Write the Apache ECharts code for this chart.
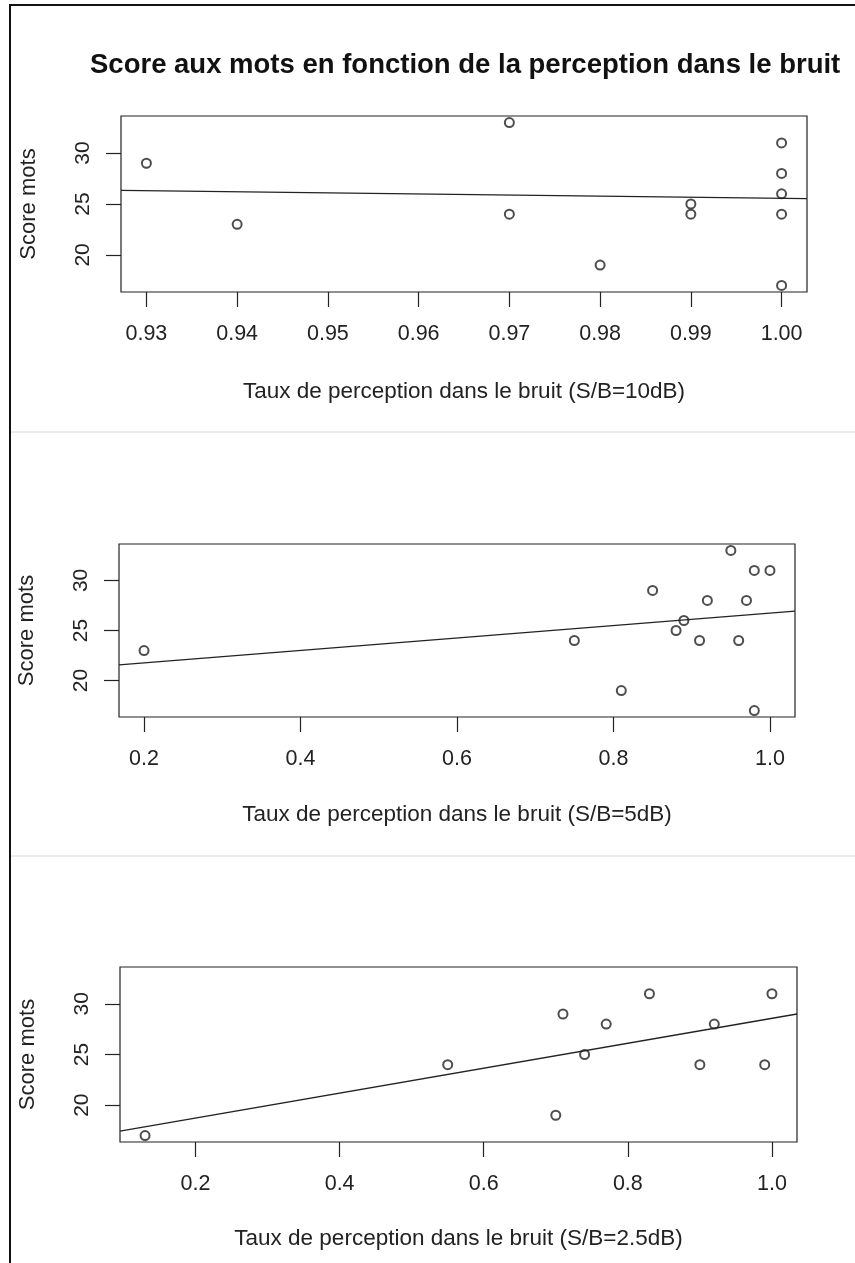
<!DOCTYPE html>
<html>
<head>
<meta charset="utf-8">
<script src="https://cdn.jsdelivr.net/npm/echarts@6/dist/echarts.min.js"></script>
<style>
html,body{margin:0;padding:0;background:#fff;}
#chart{width:855px;height:1263px;}
</style>
</head>
<body>
<div id="chart"></div>
<script>
// ---- Data ----
const chartTitle = "Score aux mots en fonction de la perception dans le bruit";
const yName = "Score mots";
const xNames = ["Taux de perception dans le bruit (S/B=10dB)",
                "Taux de perception dans le bruit (S/B=5dB)",
                "Taux de perception dans le bruit (S/B=2.5dB)"];

// Panel 1 : S/B = 10 dB
const x10 = [0.93, 0.94, 0.97, 0.97, 0.98, 0.99, 0.99, 1.00, 1.00, 1.00, 1.00, 1.00];
const y10 = [29, 23, 33, 24, 19, 25, 24, 31, 28, 26, 24, 17];
const fit10 = [26.34, 25.53];          // regression line, y at left / right edge
const xTicks10 = [0.93, 0.94, 0.95, 0.96, 0.97, 0.98, 0.99, 1.00];

// Panel 2 : S/B = 5 dB
const x5 = [0.20, 0.75, 0.81, 0.85, 0.88, 0.89, 0.91, 0.92, 0.95, 0.96, 0.97, 0.98, 0.98, 1.00];
const y5 = [23, 24, 19, 29, 25, 26, 24, 28, 33, 24, 28, 31, 17, 31];
const fit5 = [21.57, 26.94];
const xTicks5 = [0.2, 0.4, 0.6, 0.8, 1.0];

// Panel 3 : S/B = 2.5 dB
const x25 = [0.13, 0.55, 0.70, 0.71, 0.74, 0.77, 0.83, 0.90, 0.92, 0.99, 1.00];
const y25 = [17, 24, 19, 29, 25, 28, 31, 24, 28, 24, 31];
const fit25 = [17.43, 29.00];
const xTicks25 = [0.2, 0.4, 0.6, 0.8, 1.0];

const yTicks = [20, 25, 30];
const yDataRange = [17, 33];

// ---- Build ----
function ext(lo, hi) { const d = (hi - lo) * 0.04; return [lo - d, hi + d]; }
const FONT = '"Liberation Sans", Arial, sans-serif';

const panels = [
  {x: x10, y: y10, fit: fit10, ticks: xTicks10, dec: 2, grid: {left: 121, top: 116, width: 686, height: 176}, nameGap: 88},
  {x: x5,  y: y5,  fit: fit5,  ticks: xTicks5,  dec: 1, grid: {left: 119, top: 544, width: 676, height: 173}, nameGap: 86},
  {x: x25, y: y25, fit: fit25, ticks: xTicks25, dec: 1, grid: {left: 120, top: 967, width: 677, height: 175}, nameGap: 85}
];

const grids = [], xAxes = [], yAxes = [], series = [];
const yr = ext(yDataRange[0], yDataRange[1]);
panels.forEach((p, i) => {
  const xr = ext(Math.min(...p.x), Math.max(...p.x));
  grids.push(Object.assign({show: true, borderColor: '#222', borderWidth: 1.2, backgroundColor: 'transparent'}, p.grid));
  xAxes.push({
    type: 'value', gridIndex: i, min: xr[0], max: xr[1],
    axisLine: {show: false},
    splitLine: {show: false},
    axisTick: {show: true, inside: false, length: 15, customValues: p.ticks, lineStyle: {color: '#222', width: 1.2}},
    axisLabel: {show: true, customValues: p.ticks, margin: 31, color: '#222', fontSize: 21.5, fontFamily: FONT,
                formatter: v => Number(v).toFixed(p.dec)},
    name: xNames[i], nameLocation: 'middle', nameGap: p.nameGap,
    nameTextStyle: {color: '#222', fontSize: 22.5, fontFamily: FONT}
  });
  yAxes.push({
    type: 'value', gridIndex: i, min: yr[0], max: yr[1],
    axisLine: {show: false},
    splitLine: {show: false},
    axisTick: {show: true, inside: false, length: 15, customValues: yTicks, lineStyle: {color: '#222', width: 1.2}},
    axisLabel: {show: true, customValues: yTicks, rotate: 90, margin: 27, color: '#222', fontSize: 21, fontFamily: FONT},
    name: yName, nameLocation: 'middle', nameGap: 81, nameRotate: 90,
    nameTextStyle: {color: '#222', fontSize: 22, fontFamily: FONT}
  });
  series.push({
    type: 'scatter', xAxisIndex: i, yAxisIndex: i,
    data: p.x.map((v, k) => [v, p.y[k]]),
    symbol: 'emptyCircle', symbolSize: 9,
    itemStyle: {color: '#222', borderColor: '#222', borderWidth: 1.3},
    z: 3
  });
  series.push({
    type: 'line', xAxisIndex: i, yAxisIndex: i,
    data: [[xr[0], p.fit[0]], [xr[1], p.fit[1]]],
    showSymbol: false, symbol: 'none',
    lineStyle: {color: '#222', width: 1.3},
    z: 4
  });
});

const chart = echarts.init(document.getElementById('chart'), null, {renderer: 'canvas'});
chart.setOption({
  animation: false,
  backgroundColor: '#fff',
  title: {
    text: chartTitle, left: 85, top: 46,
    textStyle: {fontSize: 27.5, fontWeight: 'bold', color: '#111', fontFamily: FONT}
  },
  grid: grids, xAxis: xAxes, yAxis: yAxes, series: series,
  graphic: [
    {type: 'line', shape: {x1: 10, y1: 5, x2: 10, y2: 1263}, style: {stroke: '#111', lineWidth: 2}},
    {type: 'line', shape: {x1: 9, y1: 5, x2: 855, y2: 5}, style: {stroke: '#111', lineWidth: 2}},
    {type: 'line', shape: {x1: 11, y1: 432, x2: 855, y2: 432}, style: {stroke: '#d6d6d6', lineWidth: 1}},
    {type: 'line', shape: {x1: 11, y1: 856, x2: 855, y2: 856}, style: {stroke: '#d6d6d6', lineWidth: 1}}
  ]
});
</script>
</body>
</html>
